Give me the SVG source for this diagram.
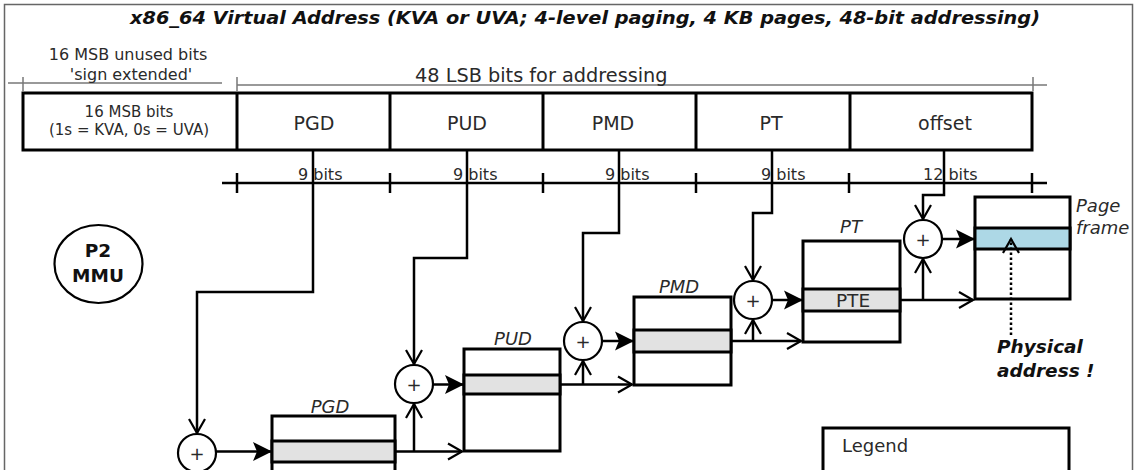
<svg xmlns="http://www.w3.org/2000/svg" width="1136" height="470" viewBox="0 0 1136 470">
<defs>
<style>
.t{font-family:"DejaVu Sans","Liberation Sans",sans-serif;fill:#2a2a2a}
.box{fill:#fff;stroke:#000;stroke-width:3}
.band{fill:#e2e2e2;stroke:#000;stroke-width:3}
.c{fill:none;stroke:#000;stroke-width:2.5}
.g{fill:none;stroke:#777;stroke-width:1.5}
.plus{fill:#fff;stroke:#000;stroke-width:2.2}
.lbl{font-size:18px;font-style:italic}
</style>
<marker id="open" markerUnits="userSpaceOnUse" markerWidth="20" markerHeight="20" refX="14" refY="8" orient="auto" overflow="visible"><path d="M0,0 L14,8 L0,16" fill="none" stroke="#000" stroke-width="2.2"/></marker>
<marker id="fill" markerUnits="userSpaceOnUse" markerWidth="20" markerHeight="20" refX="19" refY="9.5" orient="auto" overflow="visible"><path d="M0,0 L19,9.5 L0,19 L4,9.5 z" fill="#000"/></marker>
</defs>
<rect x="0" y="0" width="1136" height="470" fill="#fff"/>
<rect x="4.5" y="4.5" width="1128" height="490" fill="none" stroke="#666" stroke-width="1.5"/>

<text class="t" x="130" y="24" font-size="18" font-weight="bold" font-style="italic" textLength="910" lengthAdjust="spacingAndGlyphs" style="fill:#111">x86_64 Virtual Address (KVA or UVA; 4-level paging, 4 KB pages, 48-bit addressing)</text>

<g id="ruler-top">
<line class="g" x1="8" y1="83" x2="222" y2="83"/>
<line class="g" x1="237" y1="85" x2="1047" y2="85"/>
<line class="g" x1="23" y1="77" x2="23" y2="91"/>
<line class="g" x1="237" y1="77" x2="237" y2="91"/>
<line class="g" x1="1033" y1="77" x2="1033" y2="91"/>
<text class="t" x="128" y="60" text-anchor="middle" font-size="16">16 MSB unused bits</text>
<text class="t" x="131" y="80" text-anchor="middle" font-size="16">'sign extended'</text>
<text class="t" x="415" y="82" font-size="19.3">48 LSB bits for addressing</text>
</g>

<g id="address">
<rect class="box" x="23" y="93" width="1009" height="57"/>
<line class="c" style="stroke-width:3" x1="237" y1="93" x2="237" y2="150"/>
<line class="c" style="stroke-width:3" x1="390" y1="93" x2="390" y2="150"/>
<line class="c" style="stroke-width:3" x1="543" y1="93" x2="543" y2="150"/>
<line class="c" style="stroke-width:3" x1="696" y1="93" x2="696" y2="150"/>
<line class="c" style="stroke-width:3" x1="850" y1="93" x2="850" y2="150"/>
<text class="t" x="129" y="117" text-anchor="middle" font-size="15">16 MSB bits</text>
<text class="t" x="129" y="135" text-anchor="middle" font-size="15">(1s = KVA, 0s = UVA)</text>
<text class="t" x="314" y="130" text-anchor="middle" font-size="19">PGD</text>
<text class="t" x="467" y="130" text-anchor="middle" font-size="19">PUD</text>
<text class="t" x="613" y="130" text-anchor="middle" font-size="19">PMD</text>
<text class="t" x="771" y="130" text-anchor="middle" font-size="19">PT</text>
<text class="t" x="945" y="130" text-anchor="middle" font-size="19">offset</text>
</g>

<g id="bits-ruler">
<line class="c" x1="222" y1="183" x2="1047" y2="183"/>
<line class="c" x1="237" y1="173" x2="237" y2="193"/>
<line class="c" x1="390" y1="173" x2="390" y2="193"/>
<line class="c" x1="543" y1="173" x2="543" y2="193"/>
<line class="c" x1="696" y1="173" x2="696" y2="193"/>
<line class="c" x1="849" y1="173" x2="849" y2="193"/>
<line class="c" x1="1032" y1="173" x2="1032" y2="193"/>
<text class="t" x="298" y="180" font-size="16">9 bits</text>
<text class="t" x="453" y="180" font-size="16">9 bits</text>
<text class="t" x="605" y="180" font-size="16">9 bits</text>
<text class="t" x="761" y="180" font-size="16">9 bits</text>
<text class="t" x="923" y="180" font-size="16">12 bits</text>
</g>

<g id="mmu">
<ellipse cx="98.5" cy="264" rx="44" ry="39" fill="#fff" stroke="#000" stroke-width="2.2"/>
<text class="t" x="98" y="257" text-anchor="middle" font-size="18.5" font-weight="bold" style="fill:#111">P2</text>
<text class="t" x="98" y="282" text-anchor="middle" font-size="18.5" font-weight="bold" style="fill:#111">MMU</text>
</g>

<g id="adders">
<circle class="plus" cx="197" cy="453" r="19"/>
<circle class="plus" cx="414" cy="384" r="19"/>
<circle class="plus" cx="583" cy="341" r="19"/>
<circle class="plus" cx="753" cy="300" r="19"/>
<circle class="plus" cx="923" cy="239" r="19"/>
<g class="t" font-size="18" text-anchor="middle">
<text x="197" y="459.5">+</text>
<text x="414" y="390.5">+</text>
<text x="583" y="347.5">+</text>
<text x="753" y="306.5">+</text>
<text x="923" y="245.5">+</text>
</g>
</g>

<g id="pgd">
<rect class="box" x="272" y="416" width="123" height="80"/>
<rect class="band" x="272" y="441" width="123" height="21"/>
<text class="t lbl" x="330" y="413" text-anchor="middle">PGD</text>
</g>
<g id="pud">
<rect class="box" x="464" y="349" width="96" height="102"/>
<rect class="band" x="464" y="375" width="96" height="19"/>
<text class="t lbl" x="513" y="345" text-anchor="middle">PUD</text>
</g>
<g id="pmd">
<rect class="box" x="634" y="297" width="97" height="88"/>
<rect class="band" x="634" y="330" width="97" height="22"/>
<text class="t lbl" x="679" y="293" text-anchor="middle">PMD</text>
</g>
<g id="pt">
<rect class="box" x="803" y="241" width="97" height="101"/>
<rect class="band" x="803" y="289" width="97" height="22"/>
<text class="t" x="853" y="307" text-anchor="middle" font-size="18.5">PTE</text>
<text class="t lbl" x="851" y="233" text-anchor="middle">PT</text>
</g>
<g id="page-frame">
<rect class="box" x="975" y="197" width="95" height="102"/>
<rect class="band" x="975" y="228" width="95" height="21" style="fill:#add8e6"/>
<text class="t lbl" x="1076" y="212">Page</text>
<text class="t lbl" x="1076" y="234">frame</text>
</g>
<g id="physical">
<text class="t" x="997" y="353" font-size="18.5" font-weight="bold" font-style="italic" style="fill:#111">Physical</text>
<text class="t" x="997" y="377" font-size="18.5" font-weight="bold" font-style="italic" style="fill:#111">address !</text>
</g>
<g id="legend">
<rect class="box" x="823" y="428" width="246" height="80"/>
<text class="t" x="842" y="452" font-size="18">Legend</text>
</g>

<g id="connectors">
<polyline class="c" points="313,150 313,292 197,292 197,433" marker-end="url(#open)"/>
<polyline class="c" points="467,150 467,258 414,258 414,364" marker-end="url(#open)"/>
<polyline class="c" points="619,150 619,233 583,233 583,321" marker-end="url(#open)"/>
<polyline class="c" points="772,150 772,213 753,213 753,280" marker-end="url(#open)"/>
<polyline class="c" points="944,150 944,195 923,195 923,219" marker-end="url(#open)"/>

<line class="c" x1="216" y1="451.5" x2="272" y2="451.5" marker-end="url(#fill)"/>
<line class="c" x1="433" y1="384.5" x2="464" y2="384.5" marker-end="url(#fill)"/>
<line class="c" x1="602" y1="341" x2="634" y2="341" marker-end="url(#fill)"/>
<line class="c" x1="772" y1="300" x2="803" y2="300" marker-end="url(#fill)"/>
<line class="c" x1="942" y1="239" x2="975" y2="239" marker-end="url(#fill)"/>

<line class="c" x1="395" y1="451.5" x2="462" y2="451.5" marker-end="url(#open)"/>
<line class="c" x1="414" y1="451.5" x2="414" y2="404" marker-end="url(#open)"/>
<line class="c" x1="560" y1="384.5" x2="632" y2="384.5" marker-end="url(#open)"/>
<line class="c" x1="583" y1="384.5" x2="583" y2="361" marker-end="url(#open)"/>
<line class="c" x1="731" y1="341" x2="801" y2="341" marker-end="url(#open)"/>
<line class="c" x1="753" y1="341" x2="753" y2="320" marker-end="url(#open)"/>
<line class="c" x1="900" y1="300" x2="973" y2="300" marker-end="url(#open)"/>
<line class="c" x1="923" y1="300" x2="923" y2="259" marker-end="url(#open)"/>
<line class="c" x1="1011" y1="335" x2="1011" y2="239" stroke-dasharray="2.5,2.5" marker-end="url(#open)"/>
</g>
</svg>
